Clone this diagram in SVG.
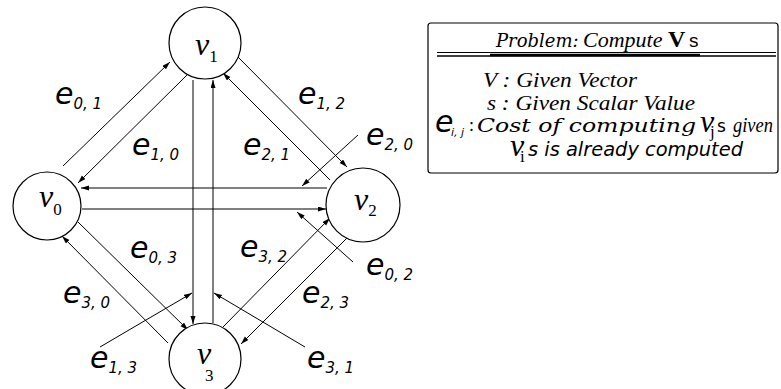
<svg xmlns="http://www.w3.org/2000/svg" width="781" height="389" viewBox="0 0 781 389">
<style>
.node{fill:#fff;stroke:#000;stroke-width:1.2}
.edge{stroke:#000;stroke-width:1;fill:none;marker-end:url(#ah)}
.e{font-family:"DejaVu Sans",sans-serif;font-style:italic;font-size:30px;fill:#000}
.es{font-size:15px}
.v{font-family:"Liberation Serif",serif;font-style:italic;font-size:32px;fill:#000}
.vs{font-family:"Liberation Serif",serif;font-style:normal;font-size:17px}
.t{font-family:"Liberation Serif",serif;font-style:italic;font-size:22px;fill:#000}
.r{font-family:"DejaVu Sans",sans-serif;font-style:italic;font-size:19px;fill:#000}
</style>
<defs>
<marker id="ah" markerWidth="10" markerHeight="8" refX="8" refY="2.5" orient="auto" markerUnits="userSpaceOnUse"><path d="M0,0 L8,2.5 L0,5 z" fill="#000"/></marker>
</defs>
<g id="connectors">
<line class="edge" x1="63" y1="166" x2="170" y2="62"/>
<line class="edge" x1="187" y1="75" x2="78" y2="183"/>
<line class="edge" x1="238" y1="57" x2="347" y2="167"/>
<line class="edge" x1="330" y1="180" x2="223" y2="73"/>
<line class="edge" x1="327" y1="188" x2="81" y2="188"/>
<line class="edge" x1="82" y1="209" x2="326" y2="209"/>
<line class="edge" x1="193" y1="80" x2="193" y2="324"/>
<line class="edge" x1="213" y1="323" x2="213" y2="80"/>
<line class="edge" x1="78" y1="222" x2="188" y2="330"/>
<line class="edge" x1="168" y1="343" x2="62" y2="236"/>
<line class="edge" x1="223" y1="327" x2="330" y2="218"/>
<line class="edge" x1="348" y1="237" x2="241" y2="344"/>
<line class="edge" x1="358" y1="135" x2="302" y2="186"/>
<line class="edge" x1="353" y1="262" x2="297" y2="212"/>
<line class="edge" x1="100" y1="347" x2="192" y2="293"/>
<line class="edge" x1="305" y1="347" x2="214" y2="293"/>
</g>
<g id="v0"><circle class="node" cx="47" cy="206" r="34"/><text class="v" x="39" y="207">v<tspan class="vs" dy="8">0</tspan></text></g>
<g id="v1"><circle class="node" cx="205" cy="43" r="36"/><text class="v" x="195" y="55">v<tspan class="vs" dy="7">1</tspan></text></g>
<g id="v2"><circle class="node" cx="363" cy="205" r="37"/><text class="v" x="354" y="210">v<tspan class="vs" dy="6">2</tspan></text></g>
<g id="v3"><circle class="node" cx="205" cy="359" r="36"/><text class="v" x="197" y="364">v</text><text class="v vs" x="205" y="381">3</text></g>
<g id="labels">
<text class="e" x="55" y="104">e<tspan class="es" dy="5">0, 1</tspan></text>
<text class="e" x="132" y="155">e<tspan class="es" dy="5">1, 0</tspan></text>
<text class="e" x="298" y="104">e<tspan class="es" dy="5">1, 2</tspan></text>
<text class="e" x="243" y="155">e<tspan class="es" dy="5">2, 1</tspan></text>
<text class="e" x="366" y="145">e<tspan class="es" dy="5">2, 0</tspan></text>
<text class="e" x="130" y="258">e<tspan class="es" dy="5">0, 3</tspan></text>
<text class="e" x="240" y="257">e<tspan class="es" dy="5">3, 2</tspan></text>
<text class="e" x="366" y="275">e<tspan class="es" dy="5">0, 2</tspan></text>
<text class="e" x="63" y="303">e<tspan class="es" dy="5">3, 0</tspan></text>
<text class="e" x="302" y="303">e<tspan class="es" dy="5">2, 3</tspan></text>
<text class="e" x="90" y="368">e<tspan class="es" dy="5">1, 3</tspan></text>
<text class="e" x="307" y="368">e<tspan class="es" dy="5">3, 1</tspan></text>
</g>
<g id="legend">
<rect x="428" y="23" width="350" height="150" rx="3" fill="#fff" stroke="#000" stroke-width="1.2"/>
<line x1="437" y1="52.5" x2="776" y2="52.5" stroke="#000" stroke-width="1.2"/>
<line x1="437" y1="56" x2="776" y2="56" stroke="#000" stroke-width="1.6"/>
<line x1="490" y1="55" x2="700" y2="55" stroke="#000" stroke-width="2.5"/>
<text x="496" y="47" font-family="DejaVu Serif,serif" font-style="italic" font-size="18">Problem:</text>
<text class="t" x="583" y="47">Compute</text>
<text x="668" y="47" font-family="Liberation Serif,serif" font-weight="bold" font-size="24">V</text>
<text x="689" y="47" font-family="Liberation Sans,sans-serif" font-size="19">s</text>
<text class="t" x="483" y="87" textLength="154" lengthAdjust="spacingAndGlyphs">V : Given Vector</text>
<text class="t" x="487" y="110" textLength="208" lengthAdjust="spacingAndGlyphs">s : Given Scalar Value</text>
<text class="e" x="435" y="132" font-size="24">e</text>
<text x="451" y="136" font-family="DejaVu Sans,sans-serif" font-style="italic" font-size="11">i, j</text>
<text x="469" y="131" font-family="Liberation Serif,serif" font-size="18">:</text>
<text x="477" y="132" font-family="DejaVu Serif,serif" font-style="italic" font-size="18" textLength="219" lengthAdjust="spacingAndGlyphs">Cost of computing</text>
<text class="v" x="700" y="132" font-size="22">v</text>
<text class="vs" x="710" y="137" font-size="11" font-style="italic">j</text>
<text x="717" y="132" font-family="DejaVu Sans,sans-serif" font-size="17">s</text>
<text class="t" x="733" y="132" font-size="19" textLength="40" lengthAdjust="spacingAndGlyphs">given</text>
<text class="v" x="510" y="156" font-size="22">v</text>
<text class="vs" x="520" y="162" font-size="11" font-style="italic">i</text>
<text class="r" x="528" y="156" textLength="215" lengthAdjust="spacingAndGlyphs">s is already computed</text>
</g>
</svg>
